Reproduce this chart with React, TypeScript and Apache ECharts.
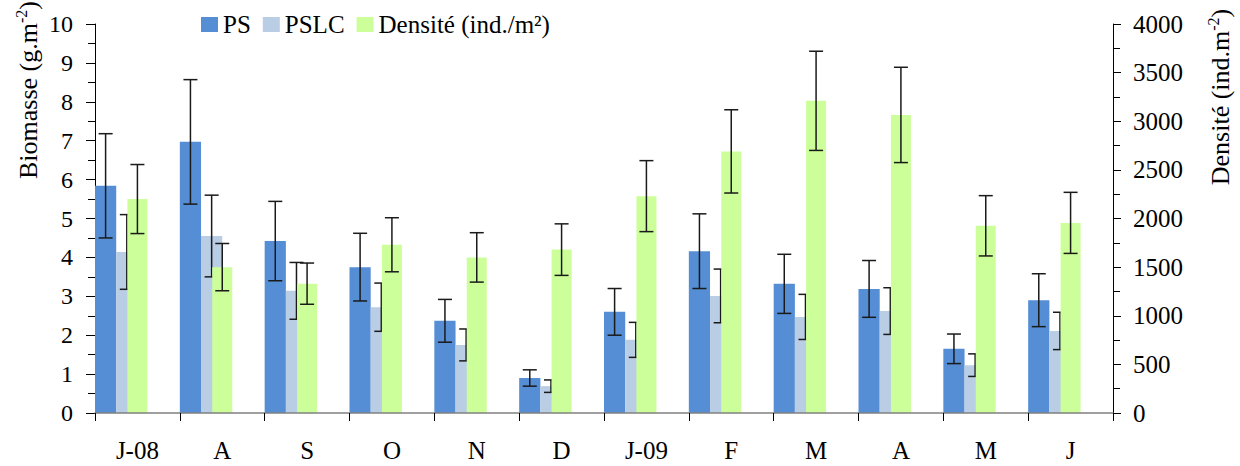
import React, { useEffect, useRef } from "react";
import * as echarts from "echarts";

const categories = ["J-08", "A", "S", "O", "N", "D", "J-09", "F", "M", "A", "M", "J"];
const psValues = [5.84, 6.97, 4.42, 3.75, 2.37, 0.9, 2.6, 4.16, 3.32, 3.19, 1.65, 2.9];
const psErr = [1.34, 1.6, 1.02, 0.87, 0.55, 0.21, 0.6, 0.96, 0.76, 0.73, 0.38, 0.68];
const pslcValues = [4.14, 4.55, 3.14, 2.72, 1.75, 0.69, 1.88, 3.01, 2.47, 2.62, 1.23, 2.11];
const pslcErr = [0.96, 1.05, 0.73, 0.62, 0.41, 0.16, 0.45, 0.69, 0.58, 0.6, 0.29, 0.48];
const densValues = [2200, 1500, 1330, 1730, 1600, 1680, 2230, 2690, 3210, 3065, 1925, 1955];
const densErr = [355, 243, 212, 278, 254, 265, 365, 428, 510, 490, 310, 314];
const leftTicks = { min: 0, max: 10, interval: 1 };
const rightTicks = { min: 0, max: 4000, interval: 500 };

const FONT = "Liberation Serif";

function errData(vals: number[], errs: number[]) {
  return vals.map((v, i) => [i, v - errs[i], v + errs[i]]);
}

function makeErrRender(offsetFactor: number) {
  return (params: any, api: any) => {
    const i = api.value(0);
    const lo = api.value(1);
    const hi = api.value(2);
    const band = api.size([1, 0])[0];
    const top = api.coord([i, hi]);
    const bot = api.coord([i, lo]);
    const x = top[0] + offsetFactor * band;
    const hw = 7;
    const style = { stroke: "#1a1a1a", lineWidth: 1.5 };
    return {
      type: "group",
      children: [
        { type: "line", shape: { x1: x, y1: top[1], x2: x, y2: bot[1] }, style },
        { type: "line", shape: { x1: x - hw, y1: top[1], x2: x + hw, y2: top[1] }, style },
        { type: "line", shape: { x1: x - hw, y1: bot[1], x2: x + hw, y2: bot[1] }, style },
      ],
    };
  };
}

function titleRich() {
  return {
    n: { fontFamily: FONT, fontSize: 26, color: "#000", verticalAlign: "bottom", lineHeight: 28 },
    s: { fontFamily: FONT, fontSize: 16, color: "#000", verticalAlign: "top", lineHeight: 28 },
  };
}

export default function App() {
  const ref = useRef<HTMLDivElement>(null);
  useEffect(() => {
    if (!ref.current) return;
    const chart = echarts.init(ref.current, null, { renderer: "svg" });
    const empty = categories.map(() => null);
    chart.setOption({
      animation: false,
      backgroundColor: "#fff",
      textStyle: { fontFamily: FONT },
      legend: {
        data: ["PS", "PSLC", "Densité (ind./m²)"],
        left: 201,
        top: 12,
        itemWidth: 17,
        itemHeight: 15,
        itemGap: 12,
        icon: "rect",
        padding: 0,
        textStyle: { fontFamily: FONT, fontSize: 25, color: "#000" },
      },
      grid: { left: 95, right: 127, top: 24, bottom: 53, containLabel: false },
      xAxis: [
        {
          type: "category",
          data: categories,
          boundaryGap: true,
          axisLine: { show: true, lineStyle: { color: "#808080", width: 1.5 } },
          axisTick: { show: true, length: 8, interval: 0, lineStyle: { color: "#000", width: 1 } },
          axisLabel: { fontFamily: FONT, fontSize: 25, color: "#000", margin: 25, interval: 0 },
          splitLine: { show: false },
          z: 10,
        },
        {
          type: "category",
          data: categories,
          show: false,
        },
      ],
      yAxis: [
        {
          type: "value",
          position: "left",
          min: leftTicks.min,
          max: leftTicks.max,
          interval: leftTicks.interval,
          axisLine: { show: true, lineStyle: { color: "#000", width: 1 } },
          axisTick: { show: true, inside: false, length: 9, lineStyle: { color: "#000" } },
          minorTick: { show: true, splitNumber: 2, length: 7, lineStyle: { color: "#000" } },
          axisLabel: { fontFamily: FONT, fontSize: 24, color: "#000", margin: 22 },
          splitLine: { show: false },
        },
        {
          type: "value",
          position: "right",
          min: rightTicks.min,
          max: rightTicks.max,
          interval: rightTicks.interval,
          axisLine: { show: true, lineStyle: { color: "#000", width: 1 } },
          axisTick: { show: true, inside: false, length: 8, lineStyle: { color: "#000" } },
          minorTick: { show: true, splitNumber: 2, length: 7, lineStyle: { color: "#000" } },
          axisLabel: {
            fontFamily: FONT,
            fontSize: 25,
            color: "#000",
            margin: 20,
            formatter: (v: number) => String(v),
          },
          splitLine: { show: false },
        },
      ],
      series: [
        {
          name: "PS",
          type: "bar",
          xAxisIndex: 0,
          yAxisIndex: 0,
          data: psValues,
          itemStyle: { color: "#558ED5" },
          barGap: "0%",
          barCategoryGap: "0%",
          z: 2,
        },
        {
          name: "PSLC",
          type: "bar",
          xAxisIndex: 0,
          yAxisIndex: 0,
          data: pslcValues,
          itemStyle: { color: "#B9CDE5" },
          barGap: "0%",
          barCategoryGap: "0%",
          z: 2,
        },
        {
          name: "_pad1",
          type: "bar",
          xAxisIndex: 0,
          yAxisIndex: 0,
          data: empty,
          barGap: "0%",
          barCategoryGap: "0%",
          silent: true,
        },
        {
          name: "_pad2",
          type: "bar",
          xAxisIndex: 0,
          yAxisIndex: 0,
          data: empty,
          barGap: "0%",
          barCategoryGap: "0%",
          silent: true,
        },
        {
          name: "PS err",
          type: "custom",
          xAxisIndex: 0,
          yAxisIndex: 0,
          data: errData(psValues, psErr),
          encode: { x: 0, y: [1, 2] },
          renderItem: makeErrRender(-0.375),
          z: 3,
          silent: true,
        },
        {
          name: "PSLC err",
          type: "custom",
          xAxisIndex: 0,
          yAxisIndex: 0,
          data: errData(pslcValues, pslcErr),
          encode: { x: 0, y: [1, 2] },
          renderItem: makeErrRender(-0.125),
          z: 3,
          silent: true,
        },
        {
          name: "Densité (ind./m²)",
          type: "bar",
          xAxisIndex: 1,
          yAxisIndex: 1,
          data: densValues,
          barWidth: 20,
          itemStyle: { color: "#CCFF99" },
          z: 4,
        },
        {
          name: "Dens err",
          type: "custom",
          xAxisIndex: 1,
          yAxisIndex: 1,
          data: errData(densValues, densErr),
          encode: { x: 0, y: [1, 2] },
          renderItem: makeErrRender(0),
          z: 5,
          silent: true,
        },
      ],
      graphic: [
        {
          type: "text",
          x: 27,
          y: 90,
          rotation: Math.PI / 2,
          style: {
            text: "{n|Biomasse (g.m}{s|-2}{n|)}",
            align: "center",
            verticalAlign: "middle",
            fill: "#000",
            rich: titleRich(),
          },
        },
        {
          type: "text",
          x: 1219,
          y: 97,
          rotation: Math.PI / 2,
          style: {
            text: "{n|Densité (ind.m}{s|-2}{n|)}",
            align: "center",
            verticalAlign: "middle",
            fill: "#000",
            rich: titleRich(),
          },
        },
      ],
    });
    return () => chart.dispose();
  }, []);
  return (
    <div
      ref={ref}
      style={{ position: "fixed", left: 0, top: 0, width: 1240, height: 466, background: "#fff" }}
    />
  );
}
